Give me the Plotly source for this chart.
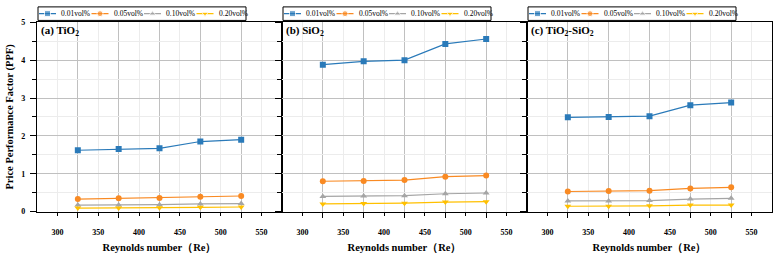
import plotly.graph_objects as go

# ---------------- data ----------------
re_values = [325, 375, 425, 475, 525]
series_names = ["0.01vol%", "0.05vol%", "0.10vol%", "0.20vol%"]
panel_titles = ["(a) TiO<sub>2</sub>", "(b) SiO<sub>2</sub>", "(c) TiO<sub>2</sub>-SiO<sub>2</sub>"]

tio2_001 = [1.62, 1.65, 1.67, 1.85, 1.90]
tio2_005 = [0.33, 0.35, 0.36, 0.39, 0.41]
tio2_010 = [0.17, 0.17, 0.18, 0.20, 0.21]
tio2_020 = [0.09, 0.09, 0.10, 0.11, 0.12]

sio2_001 = [3.88, 3.97, 4.00, 4.43, 4.56]
sio2_005 = [0.80, 0.81, 0.83, 0.92, 0.95]
sio2_010 = [0.40, 0.41, 0.42, 0.47, 0.49]
sio2_020 = [0.20, 0.21, 0.22, 0.25, 0.26]

hyb_001 = [2.49, 2.50, 2.52, 2.81, 2.88]
hyb_005 = [0.53, 0.54, 0.55, 0.61, 0.64]
hyb_010 = [0.28, 0.28, 0.29, 0.33, 0.35]
hyb_020 = [0.14, 0.14, 0.15, 0.17, 0.17]

x_tick_vals = [300, 350, 400, 450, 500, 550]
y_tick_vals = [0, 1, 2, 3, 4, 5]
x_title = "Reynolds number（Re）"
y_title = "Price Performance Factor (PPF)"

# ---------------- styling ----------------
W, H = 776, 259
colors = ["#2a7ab9", "#f98a23", "#a5a5a5", "#ffc000"]
symbols = ["square", "circle", "triangle-up", "triangle-down"]
FONT = "Liberation Serif, Times New Roman, serif"
panel_left = [37, 282, 527]
panel_w = 245
top_px, bot_px = 19, 215

panels = [
    [tio2_001, tio2_005, tio2_010, tio2_020],
    [sio2_001, sio2_005, sio2_010, sio2_020],
    [hyb_001, hyb_005, hyb_010, hyb_020],
]

fig = go.Figure()

for p, series in enumerate(panels):
    xa = "x" if p == 0 else f"x{p+1}"
    ya = "y" if p == 0 else f"y{p+1}"
    for s, vals in enumerate(series):
        fig.add_trace(go.Scatter(
            x=re_values, y=vals, xaxis=xa, yaxis=ya, mode="lines+markers",
            name=series_names[s], showlegend=False,
            line=dict(color=colors[s], width=1.2),
            marker=dict(symbol=symbols[s], size=6, color=colors[s]),
        ))

def px_x(px):
    return px / W

def px_y(py):
    return 1 - py / H

layout = dict(
    width=W, height=H, autosize=False,
    margin=dict(l=0, r=0, t=0, b=0),
    paper_bgcolor="white", plot_bgcolor="rgba(0,0,0,0)",
    font=dict(family=FONT, color="black"),
    showlegend=False,
)

for p in range(3):
    kx = "xaxis" if p == 0 else f"xaxis{p+1}"
    ky = "yaxis" if p == 0 else f"yaxis{p+1}"
    yref = "y" if p == 0 else f"y{p+1}"
    xref = "x" if p == 0 else f"x{p+1}"
    layout[kx] = dict(
        domain=[px_x(panel_left[p]), px_x(panel_left[p] + panel_w)],
        range=[275, 575], anchor=yref,
        tickmode="array", tickvals=x_tick_vals,
        ticks="outside", ticklen=3, tickwidth=1, tickcolor="black",
        ticklabelstandoff=10,
        tickfont=dict(size=8, family=FONT, weight="bold"),
        showgrid=True, gridcolor="#ececec", gridwidth=1,
        minor=dict(tickmode="array", tickvals=re_values, ticks="outside",
                   ticklen=5, tickcolor="black", showgrid=True,
                   gridcolor="#c0c0c0", gridwidth=1),
        showline=True, linecolor="black", linewidth=1.2, mirror=True,
        zeroline=False,
        title=dict(text=x_title, font=dict(size=10.5, family=FONT, weight="bold"),
                   standoff=7),
    )
    layout[ky] = dict(
        domain=[px_y(bot_px), px_y(top_px)],
        range=[0, 5], anchor=xref,
        tickmode="array", tickvals=y_tick_vals,
        ticks="outside", ticklen=6, tickwidth=1, tickcolor="black",
        ticklabelstandoff=3,
        showticklabels=(p == 0),
        tickfont=dict(size=8, family=FONT, weight="bold"),
        showgrid=True, gridcolor="#c0c0c0", gridwidth=1,
        minor=dict(dtick=0.5, ticks="outside", ticklen=3.5, tickcolor="black",
                   showgrid=True, gridcolor="#ececec", gridwidth=1),
        showline=True, linecolor="black", linewidth=1.2, mirror=True,
        zeroline=False,
    )
    if p == 0:
        layout[ky]["title"] = dict(text=y_title,
                                   font=dict(size=10.5, family=FONT, weight="bold"),
                                   standoff=5)

# legend strip axis (pixel units)
layout["xaxis4"] = dict(domain=[0, 1], range=[0, W], visible=False, fixedrange=True,
                        anchor="y4")
layout["yaxis4"] = dict(domain=[px_y(18), px_y(2)], range=[18, 2], visible=False,
                        fixedrange=True, anchor="x4")

fig.update_layout(**layout)

# custom legends above each panel
box_w, item_pitch, box_top, box_bot = 208, 52.5, 3, 17
mid_y = (box_top + box_bot) / 2
annotations = []
shapes = []
for s in range(4):
    xs, ys, sizes = [], [], []
    for p in range(3):
        L = panel_left[p] + 1
        x0 = L + 1 + s * item_pitch
        xs += [x0, x0 + 8.5, x0 + 17, None]
        ys += [mid_y, mid_y, mid_y, None]
        sizes += [0, 6, 0, 0]
        annotations.append(dict(
            x=x0 + 20, y=mid_y, xref="x4", yref="y4", text=series_names[s],
            showarrow=False, xanchor="left", yanchor="middle",
            font=dict(size=7.5, family=FONT, color="black")))
    fig.add_trace(go.Scatter(
        x=xs, y=ys, xaxis="x4", yaxis="y4", mode="lines+markers",
        showlegend=False, hoverinfo="skip",
        line=dict(color=colors[s], width=1.2),
        marker=dict(symbol=symbols[s], size=sizes, color=colors[s]),
    ))
for p in range(3):
    L = panel_left[p] + 1
    shapes.append(dict(type="rect", xref="x4", yref="y4", x0=L, x1=L + box_w,
                       y0=box_top, y1=box_bot, line=dict(color="black", width=1),
                       fillcolor="rgba(0,0,0,0)"))

for p in range(3):
    annotations.append(dict(
        x=px_x(panel_left[p] + 2), y=px_y(28), xref="paper", yref="paper",
        text=panel_titles[p], showarrow=False, xanchor="left", yanchor="middle",
        font=dict(size=11, family=FONT, weight="bold", color="black")))

fig.update_layout(annotations=annotations, shapes=shapes)

fig.write_html("out.html")
